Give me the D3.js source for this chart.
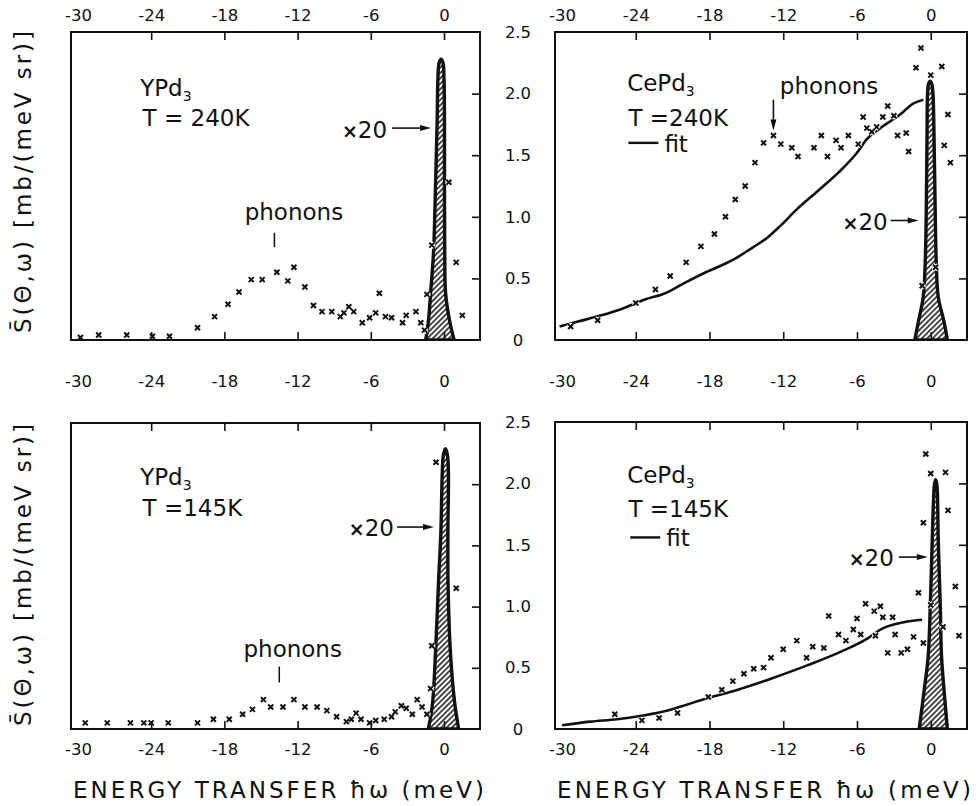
<!DOCTYPE html>
<html>
<head>
<meta charset="utf-8">
<script src="https://cdn.jsdelivr.net/npm/d3@7"></script>
<style>
  body { margin: 0; background: #fff; }
  text { font-family: "DejaVu Sans", "Liberation Sans", sans-serif; fill: #111; }
</style>
</head>
<body>
<svg id="fig" width="978" height="806"></svg>
<script>
// ---- axis ticks --------------------------------------------------------
const energyTicks = [-30, -24, -18, -12, -6, 0];
const intensityTicks = [0, 0.5, 1.0, 1.5, 2.0, 2.5];
const intensityLabels = ["0", "0.5", "1.0", "1.5", "2.0", "2.5"];
const energyDomain = [-30.57, 2.95];
const intensityDomain = [0, 2.5];

// ---- YPd3, T = 240 K : measured S(theta, omega) ------------------------
const ypd240E = [-29.8, -28.3, -26.0, -23.9, -22.5, -20.2, -18.8, -17.7, -16.8, -15.8,
                 -14.9, -13.7, -12.8, -12.3, -11.4, -10.7, -10.0, -9.2, -8.5, -8.2,
                 -7.8, -7.4, -6.7, -6.1, -5.6, -5.3, -4.8, -4.3, -3.4, -3.1,
                 -2.3, -1.9, -1.6, -1.4, -1.0, 0.4, 1.0, 1.5];
const ypd240S = [0.02, 0.04, 0.04, 0.03, 0.03, 0.10, 0.19, 0.29, 0.39, 0.49,
                 0.49, 0.55, 0.48, 0.59, 0.43, 0.28, 0.23, 0.23, 0.19, 0.22,
                 0.27, 0.23, 0.14, 0.18, 0.22, 0.38, 0.19, 0.18, 0.14, 0.20,
                 0.23, 0.14, 0.08, 0.37, 0.77, 1.28, 0.63, 0.20];

// ---- CePd3, T = 240 K : measured data and fit ---------------------------
const cepd240E = [-29.3, -27.1, -24.0, -22.4, -21.2, -19.9, -18.7, -17.6, -16.7, -15.9,
                  -15.1, -14.3, -13.6, -12.8, -12.2, -11.3, -10.8, -9.5, -8.9, -8.4,
                  -7.7, -7.3, -6.7, -5.9, -5.5, -5.2, -4.8, -4.4, -3.9, -3.5,
                  -3.0, -2.7, -2.0, -1.8, -1.2, -0.8, -0.7, 0.0, 0.4, 0.9,
                  1.1, 1.4, 1.6];
const cepd240S = [0.11, 0.16, 0.30, 0.41, 0.52, 0.63, 0.76, 0.86, 1.00, 1.14,
                  1.25, 1.44, 1.60, 1.66, 1.59, 1.56, 1.49, 1.56, 1.66, 1.49,
                  1.62, 1.56, 1.66, 1.59, 1.81, 1.72, 1.69, 1.73, 1.81, 1.90,
                  1.82, 1.66, 1.68, 1.53, 2.21, 2.37, 0.44, 2.15, 0.59, 2.22,
                  1.58, 1.83, 1.44];
const cepd240FitE = [-30.2, -28.7, -26.8, -25.2, -23.2, -21.6, -19.9, -18.3, -16.1, -14.5,
                     -13.3, -12.3, -10.9, -9.3, -7.5, -6.0, -5.2, -4.1, -2.5, -1.4, -0.6];
const cepd240FitS = [0.11, 0.15, 0.20, 0.25, 0.33, 0.38, 0.47, 0.55, 0.65, 0.75,
                     0.83, 0.92, 1.06, 1.20, 1.36, 1.52, 1.63, 1.72, 1.83, 1.92, 1.95];

// ---- YPd3, T = 145 K : measured data -------------------------------------
const ypd145E = [-29.4, -27.6, -25.7, -24.6, -24.0, -22.6, -20.2, -18.9, -17.6, -16.5,
                 -15.7, -14.8, -14.2, -13.2, -12.3, -11.4, -10.4, -9.6, -8.8, -8.0,
                 -7.6, -7.2, -6.8, -6.1, -5.6, -4.9, -4.3, -4.0, -3.5, -3.1,
                 -2.6, -2.2, -1.8, -1.4, -1.1, -1.0, -0.65, 1.0];
const ypd145S = [0.05, 0.05, 0.05, 0.05, 0.05, 0.05, 0.05, 0.08, 0.08, 0.12,
                 0.16, 0.24, 0.18, 0.18, 0.24, 0.18, 0.18, 0.15, 0.10, 0.06,
                 0.08, 0.13, 0.08, 0.05, 0.07, 0.08, 0.10, 0.14, 0.19, 0.17,
                 0.12, 0.24, 0.18, 0.12, 0.33, 0.68, 2.18, 1.15];

// ---- CePd3, T = 145 K : measured data and fit ---------------------------
const cepd145E = [-25.7, -23.5, -22.1, -20.6, -18.1, -17.0, -16.1, -15.2, -14.4, -13.6,
                  -13.0, -12.0, -10.9, -10.1, -9.6, -8.7, -8.3, -7.5, -6.9, -6.3,
                  -6.0, -5.7, -5.3, -4.6, -4.5, -4.1, -3.9, -3.5, -3.1, -2.9,
                  -2.4, -1.9, -1.4, -1.0, -0.6, -0.6, -0.4, 0.0, 0.0, 1.0,
                  1.2, 1.4, 2.0, 2.3];
const cepd145S = [0.12, 0.07, 0.09, 0.13, 0.26, 0.32, 0.39, 0.45, 0.49, 0.50,
                  0.58, 0.65, 0.72, 0.58, 0.67, 0.66, 0.92, 0.77, 0.72, 0.81,
                  0.90, 0.77, 1.02, 0.96, 0.76, 1.00, 0.91, 0.62, 0.91, 0.77,
                  0.62, 0.65, 0.75, 1.11, 0.70, 1.68, 2.24, 2.08, 1.01, 0.83,
                  2.09, 1.78, 1.16, 0.76];
const cepd145FitE = [-30.0, -27.7, -25.5, -23.4, -21.4, -19.8, -18.2, -15.7, -13.0, -10.0,
                     -7.3, -5.1, -4.1, -2.2, -0.7];
const cepd145FitS = [0.03, 0.06, 0.08, 0.11, 0.15, 0.20, 0.25, 0.32, 0.41, 0.52,
                     0.63, 0.74, 0.81, 0.87, 0.89];

// ---- elastic peaks (x20), outline as [energy, intensity] -----------------
const peakYPd240 = [[-1.5, 0], [-1.27, 0.16], [-1.1, 0.38], [-0.86, 0.71], [-0.7, 1.24],
                    [-0.56, 1.79], [-0.5, 2.12], [-0.4, 2.25], [-0.24, 2.28], [-0.08, 2.25],
                    [0.0, 2.12], [0.04, 1.79], [0.04, 1.24], [0.06, 0.71], [0.13, 0.38],
                    [0.45, 0.16], [0.83, 0]];
const peakCePd240 = [[-1.3, 0], [-1.02, 0.14], [-0.61, 0.35], [-0.45, 0.63], [-0.37, 1.0],
                     [-0.3, 1.7], [-0.26, 2.0], [-0.18, 2.08], [-0.05, 2.10], [0.08, 2.08],
                     [0.18, 2.0], [0.26, 1.7], [0.37, 1.0], [0.45, 0.63], [0.61, 0.35],
                     [1.1, 0.14], [1.35, 0]];
const peakYPd145 = [[-1.28, 0], [-0.94, 0.21], [-0.7, 0.62], [-0.45, 1.2], [-0.26, 1.6],
                    [-0.14, 2.1], [-0.05, 2.24], [0.12, 2.29], [0.28, 2.24], [0.36, 2.1],
                    [0.32, 1.6], [0.33, 1.2], [0.53, 0.62], [0.88, 0.21], [1.2, 0]];
const peakCePd145 = [[-0.94, 0], [-0.53, 0.32], [-0.21, 0.59], [-0.04, 0.99], [0.12, 1.54],
                     [0.24, 1.9], [0.3, 1.99], [0.4, 2.03], [0.5, 1.99], [0.55, 1.9],
                     [0.61, 1.54], [0.78, 0.99], [0.88, 0.59], [1.08, 0.32], [1.35, 0]];

// ---- panel set-up ---------------------------------------------------------
const panels = [
  { box: [71, 32, 480, 340], E: ypd240E, S: ypd240S, peak: peakYPd240,
    compound: "YPd", temp: "T = 240K", labelAt: [-24.9, 1.98], tempAt: [-24.7, 1.74],
    phonons: { text: [-12.3, 0.97], tick: [-13.9, 0.87, 0.755] },
    x20: { text: [-4.66, 1.64], arrow: [-4.25, -1.06, 1.72] },
    topLabelY: 21, yLabels: false, ylab: true, ylabCenter: 182 },
  { box: [555, 32, 967, 340], E: cepd240E, S: cepd240S, peak: peakCePd240,
    fitE: cepd240FitE, fitS: cepd240FitS,
    compound: "CePd", temp: "T =240K", labelAt: [-24.7, 2.02], tempAt: [-24.6, 1.735],
    fitAt: [-24.6, 1.60],
    phononsArrow: { text: [-8.27, 2.0], arrow: [-12.8, 1.95, 1.70] },
    x20: { text: [-3.5, 0.89], arrow: [-3.26, -0.98, 0.97] },
    topLabelY: 21, yLabels: true },
  { box: [71, 423, 480, 729], E: ypd145E, S: ypd145S, peak: peakYPd145,
    compound: "YPd", temp: "T =145K", labelAt: [-24.9, 1.99], tempAt: [-24.7, 1.74],
    phonons: { text: [-12.4, 0.59], tick: [-13.5, 0.51, 0.38] },
    x20: { text: [-4.1, 1.58], arrow: [-3.84, -0.82, 1.65] },
    topLabelY: 387, bottomLabelY: 755, yLabels: false, ylab: true, ylabCenter: 575, xlab: true },
  { box: [555, 422, 967, 729], E: cepd145E, S: cepd145S, peak: peakCePd145,
    fitE: cepd145FitE, fitS: cepd145FitS,
    compound: "CePd", temp: "T =145K", labelAt: [-24.7, 2.00], tempAt: [-24.6, 1.73],
    fitAt: [-24.45, 1.56],
    x20: { text: [-3.0, 1.33], arrow: [-2.6, -0.24, 1.40] },
    topLabelY: 387, bottomLabelY: 755, yLabels: true, xlab: true }
];

const svg = d3.select("#fig");
const ink = "#111";

// diagonal hatching used inside the elastic peaks
const defs = svg.append("defs");
const hatch = defs.append("pattern")
  .attr("id", "hatch").attr("patternUnits", "userSpaceOnUse")
  .attr("width", 3.8).attr("height", 3.8)
  .attr("patternTransform", "rotate(45)");
hatch.append("rect").attr("width", 3.8).attr("height", 3.8).attr("fill", "#fff");
hatch.append("line").attr("x1", 1.9).attr("y1", 0).attr("x2", 1.9).attr("y2", 3.8)
  .attr("stroke", ink).attr("stroke-width", 1.5);

const crossPath = "M-2.5,-2.5L2.5,2.5M-2.5,2.5L2.5,-2.5";

function arrowRight(g, x1, x2, yv) {
  g.append("line").attr("x1", x1).attr("x2", x2 - 8).attr("y1", yv).attr("y2", yv)
    .attr("stroke", ink).attr("stroke-width", 1.6);
  g.append("path")
    .attr("d", `M${x2},${yv} L${x2 - 11},${yv - 3} L${x2 - 11},${yv + 3} Z`)
    .attr("fill", ink);
}

function drawPanel(p) {
  const [x0, y0, x1, y1] = p.box;
  const x = d3.scaleLinear().domain(energyDomain).range([x0, x1]);
  const y = d3.scaleLinear().domain(intensityDomain).range([y1, y0]);
  const g = svg.append("g");

  const clipId = "clip" + x0 + "_" + y0;
  defs.append("clipPath").attr("id", clipId)
    .append("rect").attr("x", x0).attr("y", y0).attr("width", x1 - x0).attr("height", y1 - y0);
  const plot = g.append("g").attr("clip-path", `url(#${clipId})`);

  // elastic peak, scaled x20
  const outline = d3.line().x(d => x(d[0])).y(d => y(d[1])).curve(d3.curveCatmullRom.alpha(0.5));
  plot.append("path").attr("d", outline(p.peak) + "Z")
    .attr("fill", "url(#hatch)").attr("stroke", ink)
    .attr("stroke-width", 3.4).attr("stroke-linejoin", "round");

  // model fit
  if (p.fitE) {
    const fit = p.fitE.map((e, i) => [e, p.fitS[i]]);
    plot.append("path")
      .attr("d", d3.line().x(d => x(d[0])).y(d => y(d[1])).curve(d3.curveMonotoneX)(fit))
      .attr("fill", "none").attr("stroke", ink).attr("stroke-width", 2.6);
  }

  // measured points: white halo then cross
  const pts = p.E.map((e, i) => [e, p.S[i]]);
  plot.selectAll("path.halo").data(pts).join("path").attr("class", "halo")
    .attr("d", crossPath).attr("transform", d => `translate(${x(d[0])},${y(d[1])})`)
    .attr("stroke", "#fff").attr("stroke-width", 4.2).attr("fill", "none");
  plot.selectAll("path.pt").data(pts).join("path").attr("class", "pt")
    .attr("d", crossPath).attr("transform", d => `translate(${x(d[0])},${y(d[1])})`)
    .attr("stroke", ink).attr("stroke-width", 2.0).attr("fill", "none");

  // frame
  g.append("rect").attr("x", x0).attr("y", y0).attr("width", x1 - x0).attr("height", y1 - y0)
    .attr("fill", "none").attr("stroke", ink).attr("stroke-width", 2);

  const innerE = energyTicks.filter(v => v > -30);
  const styleTicks = sel => {
    sel.select(".domain").remove();
    sel.selectAll("line").attr("stroke", ink).attr("stroke-width", 1.6);
  };
  g.append("g").attr("transform", `translate(0,${y0})`)
    .call(d3.axisTop(x).tickValues(innerE).tickSizeInner(-8).tickSizeOuter(0).tickFormat(""))
    .call(styleTicks);
  g.append("g").attr("transform", `translate(0,${y1})`)
    .call(d3.axisBottom(x).tickValues(innerE).tickSizeInner(-8).tickSizeOuter(0).tickFormat(""))
    .call(styleTicks);
  g.append("g").attr("transform", `translate(${x1},0)`)
    .call(d3.axisRight(y).tickValues([0.5, 1.0, 1.5, 2.0]).tickSizeInner(-8).tickSizeOuter(0).tickFormat(""))
    .call(styleTicks);

  // energy tick labels
  const labelAxis = (yy) => {
    const a = g.append("g").attr("transform", `translate(0,${yy})`)
      .call(d3.axisTop(x).tickValues(energyTicks).tickSize(0).tickPadding(0).tickFormat(d3.format("d")));
    a.select(".domain").remove();
    a.selectAll("text").attr("font-size", 16.5).attr("fill", ink)
      .attr("font-family", "DejaVu Sans, sans-serif").text(d => d < 0 ? "-" + Math.abs(d) : d);
  };
  labelAxis(p.topLabelY);
  if (p.bottomLabelY) labelAxis(p.bottomLabelY);

  // intensity tick labels
  if (p.yLabels) {
    const a = g.append("g").attr("transform", `translate(${x0},0)`)
      .call(d3.axisLeft(y).tickValues(intensityTicks).tickSize(0)
        .tickFormat((d, i) => intensityLabels[i]));
    a.select(".domain").remove();
    a.selectAll("text").attr("font-size", 16.5).attr("fill", ink)
      .attr("font-family", "DejaVu Sans, sans-serif")
      .attr("text-anchor", "middle").attr("x", -37);
  }

  // compound and temperature
  const t1 = g.append("text").attr("x", x(p.labelAt[0])).attr("y", y(p.labelAt[1]))
    .attr("font-size", 23);
  t1.append("tspan").text(p.compound);
  t1.append("tspan").attr("dy", 5).attr("font-size", 14).text("3");
  g.append("text").attr("x", x(p.tempAt[0])).attr("y", y(p.tempAt[1]))
    .attr("font-size", 23).text(p.temp);

  if (p.fitAt) {
    const fx = x(p.fitAt[0]), fy = y(p.fitAt[1]);
    g.append("line").attr("x1", fx).attr("x2", fx + 30).attr("y1", fy).attr("y2", fy)
      .attr("stroke", ink).attr("stroke-width", 2.4);
    g.append("text").attr("x", fx + 36).attr("y", fy + 9).attr("font-size", 23).text("fit");
  }

  if (p.phonons) {
    g.append("text").attr("x", x(p.phonons.text[0])).attr("y", y(p.phonons.text[1]))
      .attr("text-anchor", "middle").attr("font-size", 23).text("phonons");
    g.append("line").attr("x1", x(p.phonons.tick[0])).attr("x2", x(p.phonons.tick[0]))
      .attr("y1", y(p.phonons.tick[1])).attr("y2", y(p.phonons.tick[2]))
      .attr("stroke", ink).attr("stroke-width", 1.5);
  }
  if (p.phononsArrow) {
    const pa = p.phononsArrow;
    g.append("text").attr("x", x(pa.text[0])).attr("y", y(pa.text[1]))
      .attr("text-anchor", "middle").attr("font-size", 23).text("phonons");
    const ax = x(pa.arrow[0]), ya = y(pa.arrow[1]), yb = y(pa.arrow[2]);
    g.append("line").attr("x1", ax).attr("x2", ax).attr("y1", ya).attr("y2", yb - 8)
      .attr("stroke", ink).attr("stroke-width", 1.6);
    g.append("path").attr("d", `M${ax},${yb} L${ax - 3},${yb - 11} L${ax + 3},${yb - 11} Z`).attr("fill", ink);
  }

  // x20 marker for the elastic peak
  const xt = g.append("text").attr("x", x(p.x20.text[0])).attr("y", y(p.x20.text[1]))
    .attr("text-anchor", "end").attr("font-size", 23);
  xt.append("tspan").attr("font-size", 19).attr("font-weight", "bold").text("×");
  xt.append("tspan").text("20");
  arrowRight(g, x(p.x20.arrow[0]), x(p.x20.arrow[1]), y(p.x20.arrow[2]));

  // axis titles
  if (p.ylab) {
    const t = g.append("text")
      .attr("transform", `translate(31,${p.ylabCenter}) rotate(-90)`)
      .attr("text-anchor", "middle").attr("font-size", 23)
      .attr("textLength", 302).attr("lengthAdjust", "spacing");
    t.text("S\u0304(\u0398,\u03c9) [mb/(meV sr)]");
  }
  if (p.xlab) {
    g.append("text").attr("x", x0 + 2).attr("y", 798).attr("font-size", 23)
      .attr("textLength", x1 - x0 + 2).attr("lengthAdjust", "spacing")
      .text("ENERGY  TRANSFER \u0127\u03c9 (meV)");
  }
}

panels.forEach(drawPanel);
</script>
</body>
</html>
